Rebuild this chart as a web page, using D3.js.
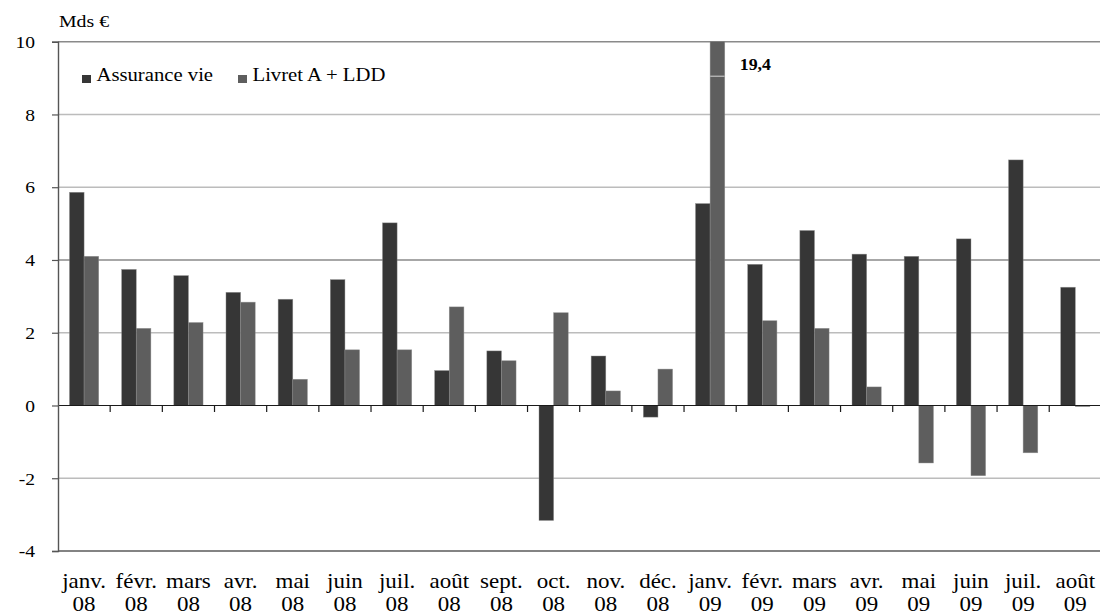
<!DOCTYPE html>
<html>
<head>
<meta charset="utf-8">
<script src="https://cdn.jsdelivr.net/npm/d3@7"></script>
<style>
  body { margin: 0; background: #fff; }
  svg { display: block; }
  svg text { font-family: "Liberation Serif", "DejaVu Serif", serif !important; }
</style>
</head>
<body>
<svg id="chart" width="1100" height="615"></svg>
<script>
// Monthly net flows, billions of euros
const months = ["janv.", "févr.", "mars", "avr.", "mai", "juin", "juil.", "août", "sept.", "oct.", "nov.", "déc.",
                "janv.", "févr.", "mars", "avr.", "mai", "juin", "juil.", "août"];
const years = ["08", "08", "08", "08", "08", "08", "08", "08", "08", "08", "08", "08",
               "09", "09", "09", "09", "09", "09", "09", "09"];
const categories = months.map((m, i) => m + " " + years[i]);
const seriesNames = ["Assurance vie", "Livret A + LDD"];
const assuranceVie = [5.86, 3.74, 3.57, 3.11, 2.92, 3.46, 5.02, 0.96, 1.50, -3.16, 1.36, -0.32,
                      5.55, 3.88, 4.81, 4.16, 4.10, 4.58, 6.75, 3.25];
const livretA = [4.10, 2.12, 2.28, 2.84, 0.72, 1.53, 1.53, 2.71, 1.23, 2.55, 0.40, 1.00,
                 19.4, 2.33, 2.12, 0.51, -1.58, -1.93, -1.30, -0.03];
const yTicks = [-4, -2, 0, 2, 4, 6, 8, 10];
const unitLabel = "Mds €";

const FONT = '"Liberation Serif", "DejaVu Serif", serif';
const colors = { "Assurance vie": "#363636", "Livret A + LDD": "#5e5e5e" };
const SX = 1.15; // glyph width stretch
const svg = d3.select("#chart").style("font-family", FONT);

const plotLeft = 58, plotRight = 1101.4, plotTop = 41.7, plotBottom = 551;

const x0 = d3.scaleBand().domain(categories).range([plotLeft, plotRight]).paddingInner(0).paddingOuter(0);
const bw = x0.bandwidth();
const x1 = d3.scaleBand().domain(seriesNames).range([bw * 0.22, bw * 0.78]);
const y = d3.scaleLinear().domain([d3.min(yTicks), d3.max(yTicks)]).range([plotBottom, plotTop]);

// horizontal gridlines
const gridColor = v => (v === 10 || v === 4) ? "#8a8a8a" : (v === -4 ? "#5a5a5a" : "#bcbcbc");
svg.append("g").selectAll("line").data(yTicks.filter(v => v !== 0)).join("line")
  .attr("x1", plotLeft).attr("x2", plotRight)
  .attr("y1", d => y(d)).attr("y2", d => y(d))
  .attr("stroke", gridColor).attr("stroke-width", 1.4);

// bars, clipped to the plot area
svg.append("defs").append("clipPath").attr("id", "plot")
  .append("rect").attr("x", plotLeft).attr("y", plotTop)
  .attr("width", plotRight - plotLeft).attr("height", plotBottom - plotTop);

const rows = categories.map((c, i) => ({
  cat: c,
  vals: [{ s: seriesNames[0], v: assuranceVie[i] }, { s: seriesNames[1], v: livretA[i] }]
}));

const barG = svg.append("g").attr("clip-path", "url(#plot)");
const groups = barG.selectAll("g").data(rows).join("g")
  .attr("transform", d => `translate(${x0(d.cat)},0)`);
groups.selectAll("rect").data(d => d.vals).join("rect")
  .attr("x", d => x1(d.s))
  .attr("width", x1.bandwidth())
  .attr("y", d => y(Math.max(0, d.v)))
  .attr("height", d => Math.max(0.8, Math.abs(y(d.v) - y(0))))
  .attr("fill", d => colors[d.s])
  .attr("stroke", "#8c8c8c").attr("stroke-width", 0.6).attr("stroke-opacity", 0.7);

// break mark and value label on bars that exceed the axis maximum
const yMax = y.domain()[1];
rows.forEach(r => r.vals.forEach(d => {
  if (d.v > yMax) {
    const bx = x0(r.cat) + x1(d.s);
    svg.append("line")
      .attr("x1", bx).attr("x2", bx + x1.bandwidth())
      .attr("y1", y(9.05)).attr("y2", y(9.05))
      .attr("stroke", "#b4b4b4").attr("stroke-width", 1.4);
    svg.append("text")
      .attr("transform", `translate(${bx + x1.bandwidth() + 15},${y(yMax) + 28}) scale(1.05,1)`)
      .attr("font-size", 17).attr("font-weight", "bold")
      .text(String(d.v).replace(".", ","));
  }
}));

// zero line with category separators
svg.append("line")
  .attr("x1", plotLeft).attr("x2", plotRight).attr("y1", y(0)).attr("y2", y(0))
  .attr("stroke", "#1a1a1a").attr("stroke-width", 1.2);
svg.append("g").selectAll("line").data(categories.slice(1)).join("line")
  .attr("x1", d => x0(d)).attr("x2", d => x0(d))
  .attr("y1", y(0)).attr("y2", y(0) + 6.5)
  .attr("stroke", "#1a1a1a").attr("stroke-width", 1.2);

// y axis
const yAxis = svg.append("g").attr("transform", `translate(${plotLeft},0)`)
  .call(d3.axisLeft(y).tickValues(yTicks).tickSize(6).tickFormat(d => String(d)));
yAxis.attr("font-family", null);
yAxis.select(".domain").attr("stroke", "#555").attr("stroke-width", 1.4);
yAxis.selectAll(".tick line").attr("stroke", "#555").attr("stroke-width", 1.2);
yAxis.selectAll(".tick text")
  .attr("font-size", 17).attr("x", -23 / SX).attr("dy", "0.34em").attr("fill", "#000")
  .attr("transform", `scale(${SX},1)`);

// x axis labels, two lines per category
const xAxis = svg.append("g").attr("transform", `translate(0,${plotBottom})`)
  .call(d3.axisBottom(x0).tickSize(0).tickFormat(""));
xAxis.attr("font-family", null);
xAxis.select(".domain").remove();
xAxis.selectAll(".tick").each(function (d, i) {
  const t = d3.select(this).append("text")
    .attr("text-anchor", "middle").attr("font-size", 20).attr("fill", "#000")
    .attr("transform", `scale(${SX},1)`);
  t.append("tspan").attr("x", 0).attr("y", 37.5).text(months[i]);
  t.append("tspan").attr("x", 0).attr("y", 60.5).text(years[i]);
});

// unit label
svg.append("text")
  .attr("transform", `translate(59,27) scale(1.2,1)`)
  .attr("font-size", 16.5).text(unitLabel);

// legend
const legendX = [82, 238];
const lg = svg.append("g").selectAll("g").data(seriesNames).join("g")
  .attr("transform", (d, i) => `translate(${legendX[i]},0)`);
lg.append("rect").attr("x", 0).attr("y", 75).attr("width", 9).attr("height", 8)
  .attr("fill", d => colors[d]);
lg.append("text")
  .attr("transform", `translate(14.5,81) scale(${SX},1)`)
  .attr("font-size", 18).text(d => d);
</script>
</body>
</html>
